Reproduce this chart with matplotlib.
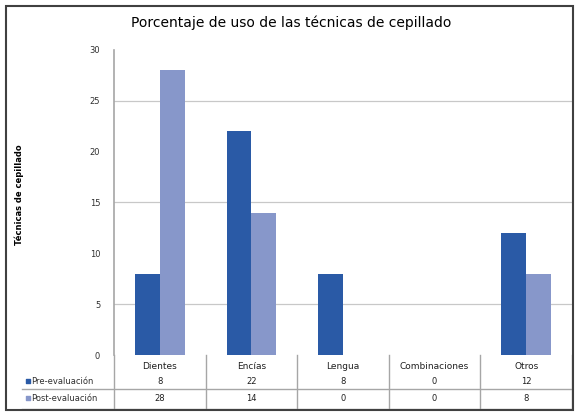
import matplotlib
matplotlib.use("Agg")
import matplotlib.pyplot as plt
import matplotlib.transforms as mtransforms
import numpy as np
from matplotlib.patches import Rectangle

categorias = ["Dientes", "Encías", "Lengua", "Combinaciones", "Otros"]
series = ["Pre-evaluación", "Post-evaluación"]
pre = [8, 22, 8, 0, 12]
post = [28, 14, 0, 0, 8]
yticks = [0, 5, 10, 15, 20, 25, 30]
grid_y = [5, 15, 25]

c_dark = "#2A5AA6"
c_light = "#8797CA"
c_line = "#A6A6A6"

fig = plt.figure(figsize=(5.76, 4.12), dpi=100)
fig.patch.set_facecolor("white")
ax = fig.add_axes([0.198, 0.138, 0.795, 0.741])

x = np.arange(len(categorias))
w = 0.27
for g in grid_y:
    ax.axhline(g, color="#C8C8C8", linewidth=0.9, zorder=1)
ax.bar(x - w / 2, pre, w, color=c_dark, zorder=3)
ax.bar(x + w / 2, post, w, color=c_light, zorder=3)

ax.set_xlim(-0.5, len(categorias) - 0.5)
ax.set_ylim(0, 30)
ax.set_yticks(yticks)
ax.set_yticklabels([str(v) for v in yticks], fontsize=6, color="#303030")
ax.tick_params(axis="y", length=0, pad=10)
ax.set_xticks([])
for s in ["top", "right", "bottom"]:
    ax.spines[s].set_visible(False)
ax.spines["left"].set_color(c_line)
ax.spines["left"].set_linewidth(1.2)

ax.set_ylabel("Técnicas de cepillado", fontsize=6, fontweight="bold")
ax.yaxis.set_label_coords(-0.197, 0.525)

# data table under the plot (x in data units, y in axes units)
tr = mtransforms.blended_transform_factory(ax.transData, ax.transAxes)
y_head, y_r1, y_r2 = -0.036, -0.086, -0.142
y_mid, y_bot = -0.112, -0.177
left = -1.5

for k in range(len(categorias) + 1):
    ax.plot([k - 0.5, k - 0.5], [0, y_bot], color=c_line, linewidth=1.0,
            transform=tr, clip_on=False)
for yy in [y_mid, y_bot]:
    ax.plot([left, len(categorias) - 0.5], [yy, yy], color=c_line, linewidth=1.0,
            transform=tr, clip_on=False)

for i, cat in enumerate(categorias):
    ax.text(i, y_head, cat, ha="center", va="center", fontsize=6.5,
            color="#202020", transform=tr)
    ax.text(i, y_r1, str(pre[i]), ha="center", va="center", fontsize=6,
            color="#202020", transform=tr)
    ax.text(i, y_r2, str(post[i]), ha="center", va="center", fontsize=6,
            color="#202020", transform=tr)

for name, yy, col in zip(series, [y_r1, y_r2], [c_dark, c_light]):
    ax.scatter([-1.44], [yy], s=6, marker="s", color=col, transform=tr,
               clip_on=False)
    ax.text(-1.40, yy, name, ha="left", va="center", fontsize=6,
            color="#303030", transform=tr)

fig.suptitle("Porcentaje de uso de las técnicas de cepillado", fontsize=10,
             y=0.963, x=0.505)

fig.patches.append(Rectangle((0.01, 0.005), 0.985, 0.98, transform=fig.transFigure,
                             fill=False, edgecolor="#404040", linewidth=1.5))

fig.savefig("out.png", dpi=100)
